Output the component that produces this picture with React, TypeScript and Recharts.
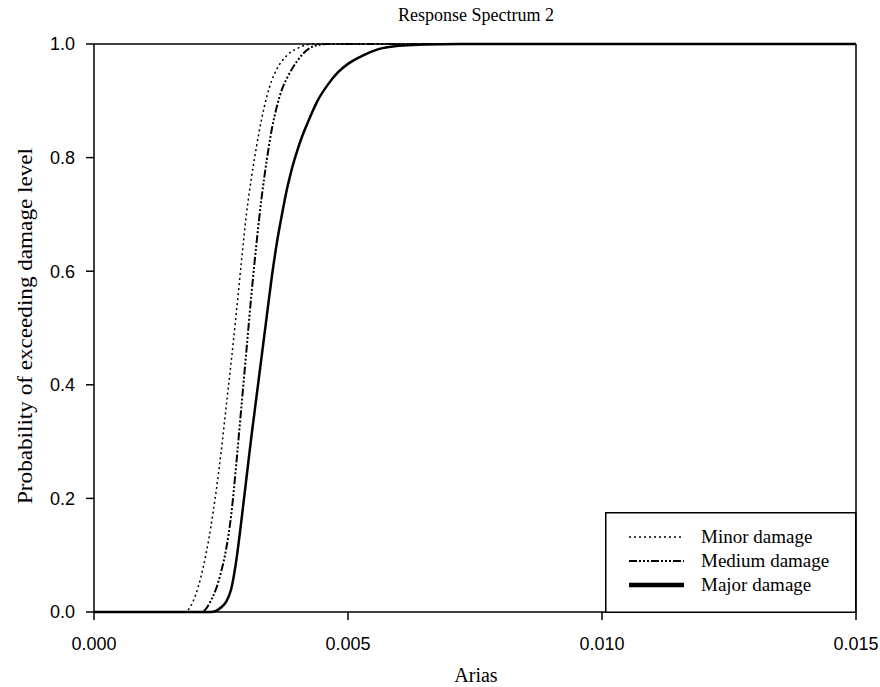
import React from 'react';
import { LineChart, Line, XAxis, YAxis, ReferenceLine, Legend } from 'recharts';

const minorX = [0, 0.0018, 0.0019, 0.002, 0.0021, 0.0022, 0.0023, 0.0024, 0.0025, 0.0026, 0.0027, 0.0028, 0.0029, 0.003, 0.0031, 0.0032, 0.0033, 0.0034, 0.0035, 0.0036, 0.0038, 0.004, 0.0043, 0.015];
const minorP = [0, 0, 0.01, 0.03, 0.06, 0.1, 0.15, 0.21, 0.28, 0.36, 0.44, 0.525, 0.615, 0.7, 0.765, 0.82, 0.868, 0.907, 0.936, 0.956, 0.98, 0.992, 1, 1];

const mediumX = [0, 0.0021, 0.0022, 0.0023, 0.0024, 0.0025, 0.0026, 0.0027, 0.0028, 0.0029, 0.003, 0.0031, 0.0032, 0.0033, 0.0034, 0.0035, 0.0036, 0.0037, 0.0038, 0.004, 0.0042, 0.0044, 0.0046, 0.015];
const mediumP = [0, 0, 0.005, 0.02, 0.04, 0.07, 0.11, 0.17, 0.26, 0.36, 0.46, 0.56, 0.65, 0.73, 0.795, 0.85, 0.89, 0.92, 0.94, 0.97, 0.99, 0.998, 1, 1];

const majorX = [0, 0.0023, 0.0024, 0.0025, 0.0026, 0.0027, 0.0028, 0.0029, 0.003, 0.0031, 0.0032, 0.0033, 0.0034, 0.0035, 0.0036, 0.0037, 0.0038, 0.0039, 0.004, 0.0041, 0.0042, 0.0044, 0.0046, 0.0048, 0.005, 0.0053, 0.0056, 0.006, 0.0065, 0.0072, 0.015];
const majorP = [0, 0, 0.002, 0.008, 0.018, 0.04, 0.09, 0.16, 0.235, 0.31, 0.38, 0.45, 0.52, 0.59, 0.65, 0.7, 0.745, 0.782, 0.812, 0.838, 0.86, 0.9, 0.928, 0.95, 0.965, 0.98, 0.991, 0.997, 0.999, 1, 1];

const xTicks = [0, 0.005, 0.01, 0.015];
const yTicks = [0, 0.2, 0.4, 0.6, 0.8, 1.0];

const seriesNames = ['Minor damage', 'Medium damage', 'Major damage'];
const titleText = 'Response Spectrum 2';
const xLabelText = 'Arias';
const yLabelText = 'Probability of exceeding damage level';

const toPoints = (xs: number[], ys: number[]) => xs.map((x, i) => ({ x, p: ys[i] }));

const minorData = toPoints(minorX, minorP);
const mediumData = toPoints(mediumX, mediumP);
const majorData = toPoints(majorX, majorP);

const SERIF = '"Liberation Serif", "Times New Roman", serif';
const SANS = '"Liberation Sans", Arial, sans-serif';

const styles: Record<string, { dash?: string; width: number; legendWidth: number }> = {
  'Minor damage': { dash: '2 3', width: 1.5, legendWidth: 1.5 },
  'Medium damage': { dash: '8 2 2 2 2 2 2 2', width: 2, legendWidth: 2 },
  'Major damage': { width: 2.5, legendWidth: 4.5 },
};

const LegendBox = () => (
  <svg width={252} height={102} style={{ display: 'block' }}>
    <rect x={0.75} y={0.75} width={250} height={99.5} fill="#fff" stroke="#000" strokeWidth={1.5} />
    {seriesNames.map((name, i) => {
      const st = styles[name];
      const cy = 25 + i * 24;
      return (
        <g key={name}>
          <line x1={24} x2={79} y1={cy} y2={cy} stroke="#000" strokeWidth={st.legendWidth} strokeDasharray={st.dash} />
          <text x={96} y={cy} dy="0.33em" fontFamily={SERIF} fontSize={19} fill="#000">{name}</text>
        </g>
      );
    })}
  </svg>
);

export default function App() {
  return (
    <div style={{ position: 'fixed', left: 0, top: 0, width: 880, height: 687, background: '#fff' }}>
      <LineChart width={880} height={687} margin={{ top: 44, right: 24, bottom: 0, left: 0 }}>
        <XAxis
          dataKey="x"
          type="number"
          domain={[0, 0.015]}
          ticks={xTicks}
          tickFormatter={(v: number) => v.toFixed(3)}
          allowDataOverflow
          height={75}
          stroke="#000"
          strokeWidth={1.5}
          tickSize={8}
          tickMargin={17}
          tick={{ fill: '#000', fontFamily: SANS, fontSize: 18 }}
          label={{
            content: () => (
              <text x={476} y={682} textAnchor="middle" fontFamily={SERIF} fontSize={20} fill="#000">{xLabelText}</text>
            ),
          }}
        />
        <YAxis
          dataKey="p"
          type="number"
          domain={[0, 1]}
          ticks={yTicks}
          tickFormatter={(v: number) => v.toFixed(1)}
          width={94}
          stroke="#000"
          strokeWidth={1.5}
          tickSize={8}
          tickMargin={11}
          tick={{ fill: '#000', fontFamily: SANS, fontSize: 18 }}
          label={{
            content: () => (
              <text
                transform="translate(32, 326) rotate(-90)"
                textAnchor="middle"
                fontFamily={SERIF}
                fontSize={22}
                textLength={356}
                lengthAdjust="spacingAndGlyphs"
                fill="#000"
              >
                {yLabelText}
              </text>
            ),
          }}
        />
        <ReferenceLine y={1} stroke="#000" strokeWidth={1.5} />
        <ReferenceLine x={0.015} stroke="#000" strokeWidth={1.5} />
        <Line data={majorData} dataKey="p" name={seriesNames[2]} type="monotone" stroke="#000" strokeWidth={styles['Major damage'].width} dot={false} isAnimationActive={false} />
        <Line data={mediumData} dataKey="p" name={seriesNames[1]} type="monotone" stroke="#000" strokeWidth={styles['Medium damage'].width} strokeDasharray={styles['Medium damage'].dash} dot={false} isAnimationActive={false} />
        <Line data={minorData} dataKey="p" name={seriesNames[0]} type="monotone" stroke="#000" strokeWidth={styles['Minor damage'].width} strokeDasharray={styles['Minor damage'].dash} dot={false} isAnimationActive={false} />
        <Legend
          layout="vertical"
          align="center"
          verticalAlign="middle"
          content={<LegendBox />}
          wrapperStyle={{ position: 'absolute', left: 605, top: 512, width: 252, height: 102 }}
        />
      </LineChart>
      <svg width={880} height={30} style={{ position: 'absolute', left: 0, top: 0 }}>
        <text x={476} y={21} textAnchor="middle" fontFamily={SERIF} fontSize={18} fill="#000">{titleText}</text>
      </svg>
    </div>
  );
}
